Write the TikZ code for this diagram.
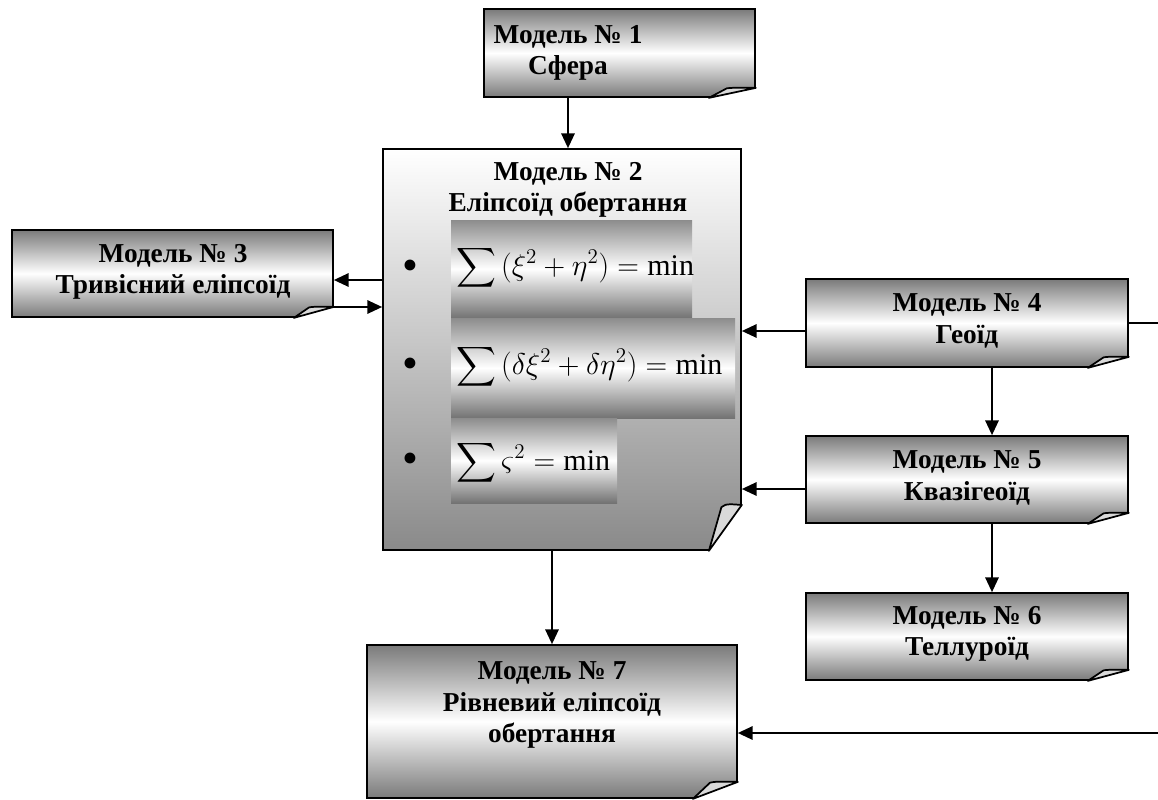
\RequirePackage{fix-cm}
\documentclass[tikz,border=0pt]{standalone}
\usepackage{amsmath}
\usepackage{fontspec}
\setmainfont{Liberation Serif}
\usetikzlibrary{arrows.meta,calc,fit}

\tikzset{
  docbox/.style={draw, line width=1.3pt, inner sep=0pt, top color=black!52, bottom color=black!52, middle color=white},
  bigdoc/.style={draw, line width=1.3pt, inner sep=0pt, top color=white, bottom color=black!46},
  fbox/.style={inner sep=0pt, top color=black!45, bottom color=black!55, middle color=white},
  formula/.style={anchor=west, inner sep=0pt, font=\fontsize{22.5}{26}\selectfont},
  title/.style={align=center, inner sep=0pt, font=\bfseries\fontsize{20.5}{23.5}\selectfont},
  dot/.style={inner sep=0pt, font=\fontsize{34}{36}\selectfont},
  arr/.style={line width=1.3pt, -{Triangle[length=11pt,width=10pt]}},
}

% folded corner of a document box: node, width, height
\newcommand{\pagecurl}[3]{%
  \fill[white] ($(#1.south east)+(-#2,0)$) -- ($(#1.south east)+(-#2,2)$) -- ($(#1.south east)+(2,2)$) -- ($(#1.south east)+(2,-#3)$) -- ($(#1.south east)+(0,-#3)$) -- cycle;
  \filldraw[fill=black!15, line width=1.3pt, line join=round] ($(#1.south east)+(-#2,0)$) -- ($(#1.south east)+(-0.62*#2,-0.95*#3)$) .. controls ($(#1.south east)+(-0.5*#2,-1.05*#3)$) and ($(#1.south east)+(-0.2*#2,-#3)$) .. ($(#1.south east)+(0,-#3)$) -- cycle;
}

\begin{document}
\begin{tikzpicture}[x=0.75pt,y=0.75pt,yscale=-1,xscale=1]
\useasboundingbox (0,0) rectangle (1158,800);

%Shape: Model 1
\node[docbox, fit={(484,9) (755,97)}] (m1) {};
%Shape: Model 2
\node[bigdoc, fit={(383,149) (741,550)}] (m2) {};
% Formula boxes
\node[fbox, fit={(451,220) (692,318)}] (f1) {};
\node[fbox, fit={(451,318) (735,418)}] (f2) {};
\node[fbox, fit={(451,418) (617,503)}] (f3) {};
%Shape: Model 3
\node[docbox, fit={(12,230) (333,317)}] (m3) {};
%Shape: Model 4
\node[docbox, fit={(806,279) (1128,367)}] (m4) {};
%Shape: Model 5
\node[docbox, fit={(806,436) (1128,523)}] (m5) {};
%Shape: Model 6
\node[docbox, fit={(806,593) (1128,680)}] (m6) {};
%Shape: Model 7
\node[docbox, fit={(367,645) (737,798)}] (m7) {};

% Folded corners
\pagecurl{m1}{47}{10}
\pagecurl{m2}{33}{46}
\pagecurl{m3}{40}{11}
\pagecurl{m4}{41}{11}
\pagecurl{m5}{41}{11}
\pagecurl{m6}{41}{11}
\pagecurl{m7}{45}{17}

% Text Node
\node[title] (m1t) at (568,53) {Модель № 1\\Сфера};
\node[title] (m2t) at (568,190) {Модель № 2\\Еліпсоїд обертання};
\node[title] (m3t) at (173,272) {Модель № 3\\Тривісний еліпсоїд};
\node[title] (m4t) at (967,321) {Модель № 4\\Геоїд};
\node[title] (m5t) at (967,478) {Модель № 5\\Квазігеоїд};
\node[title] (m6t) at (967,634) {Модель № 6\\Теллуроїд};
\node[title] (m7t) at (552,705) {Модель № 7\\Рівневий еліпсоїд\\обертання};
% Formulas
\node[formula] (e1) at (456,268) {$\displaystyle\sum\,(\xi^{2}+\eta^{2})=\min$};
\node[formula] (e2) at (456,367) {$\displaystyle\sum\,(\delta\xi^{2}+\delta\eta^{2})=\min$};
\node[formula] (e3) at (456,463) {$\displaystyle\sum\varsigma^{2}=\min$};
\node[dot] (b1) at (410,270) {\textbullet};
\node[dot] (b2) at (410,368) {\textbullet};
\node[dot] (b3) at (410,463) {\textbullet};

% Connectors
\coordinate (c3a) at ($(m3.east)+(0,6.5)$);
\coordinate (c3b) at ($(m3.east)+(0,33.5)$);
\coordinate (c4) at ($(m4.west)+(0,8)$);
\coordinate (c5) at ($(m5.west)+(0,9.5)$);
\coordinate (v4) at ($(m4.south)+(25,0)$);
\coordinate (v5) at ($(m5.south)+(25,0)$);
\coordinate (c7) at ($(m7.east)+(0,11.5)$);
\coordinate (rt) at (1161,0);

\draw[arr] (m1t |- m1.south) -- (m1t |- m2.north);
\draw[arr] (c3a -| m2.west) -- (c3a);
\draw[arr] (c3b) -- (c3b -| m2.west);
\draw[arr] (c4) -- (c4 -| m2.east);
\draw[arr] (c5) -- (c5 -| m2.east);
\draw[arr] (v4) -- (v4 |- m5.north);
\draw[arr] (v5) -- (v5 |- m6.north);
\draw[arr] (m7.north |- m2.south) -- (m7.north);
\draw[arr] (m4.east) -- (m4.east -| rt) -- (rt |- c7) -- (c7);
\end{tikzpicture}
\end{document}
